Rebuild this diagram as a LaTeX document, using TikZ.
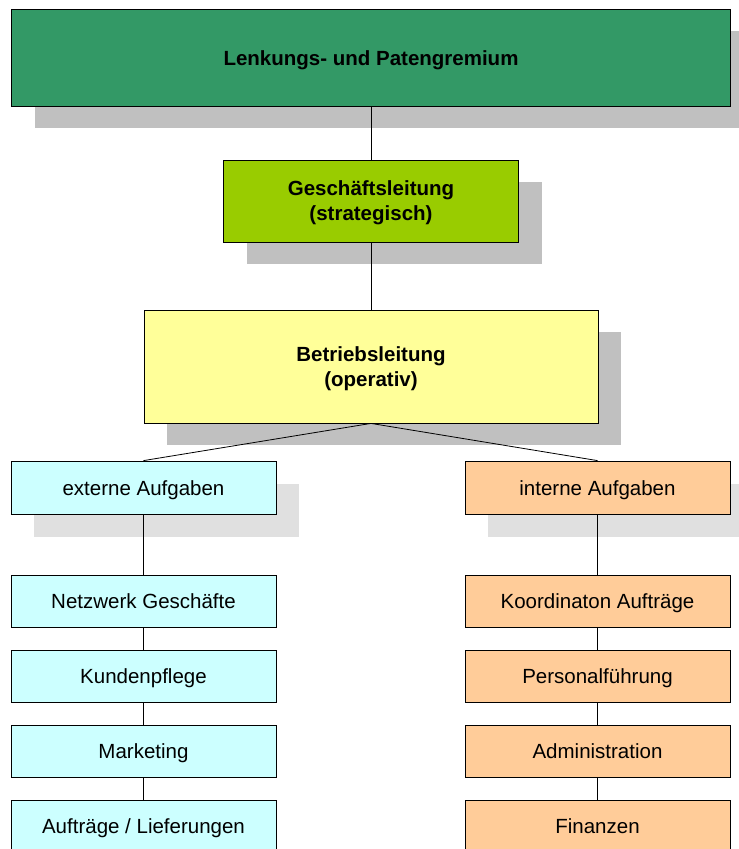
\documentclass[tikz,border=0pt]{standalone}
\usepackage{fontspec}
\setmainfont{Liberation Sans}
\usetikzlibrary{shadows}
\definecolor{topgreen}{HTML}{339966}
\definecolor{gsgreen}{HTML}{99CC00}
\definecolor{blyellow}{HTML}{FFFF99}
\definecolor{cyanbox}{HTML}{CCFFFF}
\definecolor{orangebox}{HTML}{FFCC99}
\definecolor{shadowdark}{HTML}{C0C0C0}
\definecolor{shadowlight}{HTML}{E0E0E0}
\tikzset{
  box/.style={draw=black,line width=0.8pt,inner sep=0pt,align=center,
    text height=17.3pt,text depth=1.7pt,
    font=\fontsize{20.5}{24.6}\selectfont},
  boldbox/.style={box,font=\fontsize{20.5}{24.6}\selectfont\bfseries},
  plainbox/.style={draw=black,line width=0.8pt,inner sep=0pt},
  boldtext/.style={inner sep=0pt,align=center,font=\fontsize{20.5}{25}\selectfont\bfseries},
  darkshadow/.style={drop shadow={shadow xshift=23pt,shadow yshift=-22pt,fill=shadowdark,opacity=1}},
  lightshadow/.style={drop shadow={shadow xshift=23pt,shadow yshift=-23pt,fill=shadowlight,opacity=1}},
  conn/.style={draw=black,line width=0.8pt},
  small/.style={box,minimum width=265pt,minimum height=52pt}
}
\begin{document}
\begin{tikzpicture}[x=1pt,y=-1pt]
\useasboundingbox (0,0) rectangle (739,849);
\clip (0,0) rectangle (739,849);
\node[boldbox,darkshadow,fill=topgreen,minimum width=719pt,minimum height=97pt] (lp) at (371,57.5) {Lenkungs- und Patengremium};
\node[plainbox,darkshadow,fill=gsgreen,minimum width=295pt,minimum height=82pt] (gs) at (371,201) {};
\node[boldtext] (gst) at (371,203) {Geschäftsleitung\\(strategisch)};
\node[plainbox,darkshadow,fill=blyellow,minimum width=454pt,minimum height=113pt] (bl) at (371,366.5) {};
\node[boldtext] (blt) at (371,368.5) {Betriebsleitung\\(operativ)};
\node[small,lightshadow,fill=cyanbox,minimum height=53pt] (ext) at (143.5,487.5) {externe Aufgaben};
\node[small,lightshadow,fill=orangebox,minimum height=53pt] (int) at (597.5,487.5) {interne Aufgaben};
\node[small,fill=cyanbox] (e1) at (143.5,601) {Netzwerk Geschäfte};
\node[small,fill=cyanbox] (e2) at (143.5,676) {Kundenpflege};
\node[small,fill=cyanbox] (e3) at (143.5,751) {Marketing};
\node[small,fill=cyanbox] (e4) at (143.5,826) {Aufträge / Lieferungen};
\node[small,fill=orangebox] (i1) at (597.5,601) {Koordinaton Aufträge};
\node[small,fill=orangebox] (i2) at (597.5,676) {Personalführung};
\node[small,fill=orangebox] (i3) at (597.5,751) {Administration};
\node[small,fill=orangebox] (i4) at (597.5,826) {Finanzen};
\draw[conn] (lp.south) -- (gs.north);
\draw[conn] (gs.south) -- (bl.north);
\draw[conn] (bl.south) -- (ext.north);
\draw[conn] (bl.south) -- (int.north);
\draw[conn] (ext.south) -- (e1.north);
\draw[conn] (e1.south) -- (e2.north);
\draw[conn] (e2.south) -- (e3.north);
\draw[conn] (e3.south) -- (e4.north);
\draw[conn] (int.south) -- (i1.north);
\draw[conn] (i1.south) -- (i2.north);
\draw[conn] (i2.south) -- (i3.north);
\draw[conn] (i3.south) -- (i4.north);
\end{tikzpicture}
\end{document}
